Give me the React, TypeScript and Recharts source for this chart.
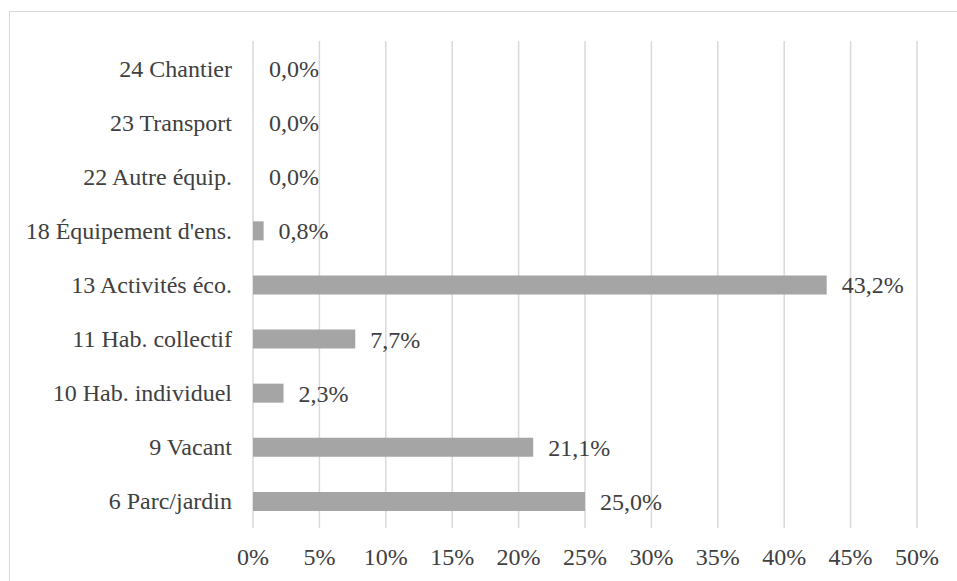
import { Bar, BarChart, CartesianGrid, Cell, LabelList, XAxis, YAxis } from "recharts";

const categories = [
  "24 Chantier",
  "23 Transport",
  "22 Autre équip.",
  "18 Équipement d'ens.",
  "13 Activités éco.",
  "11 Hab. collectif",
  "10 Hab. individuel",
  "9 Vacant",
  "6 Parc/jardin",
];
const shares = [0, 0, 0, 0.8, 43.2, 7.7, 2.3, 21.1, 25.0];
const xTicks = [0, 5, 10, 15, 20, 25, 30, 35, 40, 45, 50];

const data = categories.map((name, i) => ({ name, value: shares[i] }));

const FONT = '"Liberation Serif", "Times New Roman", serif';
const TEXT = "#404040";
const FS = 24;

export default function App() {
  return (
    <div
      style={{
        position: "absolute",
        left: 0,
        top: 0,
        width: 957,
        height: 581,
        overflow: "hidden",
        background: "#fff",
        fontFamily: FONT,
      }}
    >
      <div
        style={{
          position: "absolute",
          left: 9,
          top: 11,
          width: 990,
          height: 600,
          border: "1px solid #d9d9d9",
        }}
      />
      <div style={{ position: "absolute", left: 0, top: 0 }}>
        <BarChart
          width={957}
          height={581}
          data={data}
          layout="vertical"
          margin={{ top: 41, right: 40, bottom: 23, left: 0 }}
        >
          <CartesianGrid horizontal={false} stroke="#d9d9d9" strokeWidth={1.5} />
          <XAxis
            type="number"
            domain={[0, 50]}
            ticks={xTicks}
            height={30}
            axisLine={false}
            tickLine={false}
            tickMargin={14}
            tickFormatter={(v: number) => `${v}%`}
            tick={{ fill: TEXT, fontSize: FS, fontFamily: FONT }}
          />
          <YAxis
            type="category"
            dataKey="name"
            width={253}
            axisLine={false}
            tickLine={false}
            tickMargin={15}
            interval={0}
            tick={{ fill: TEXT, fontSize: FS, fontFamily: FONT }}
          />
          <Bar
            dataKey="value"
            fill="#a5a5a5"
            barSize={19}
            minPointSize={1}
            isAnimationActive={false}
          >
            {data.map((d) => (
              <Cell key={d.name} fill={d.value === 0 ? "transparent" : "#a5a5a5"} />
            ))}
            <LabelList
              dataKey="value"
              position="right"
              offset={15}
              formatter={(v: number) => `${v.toFixed(1).replace(".", ",")}%`}
              style={{ fill: TEXT, fontSize: FS, fontFamily: FONT }}
            />
          </Bar>
        </BarChart>
      </div>
    </div>
  );
}
